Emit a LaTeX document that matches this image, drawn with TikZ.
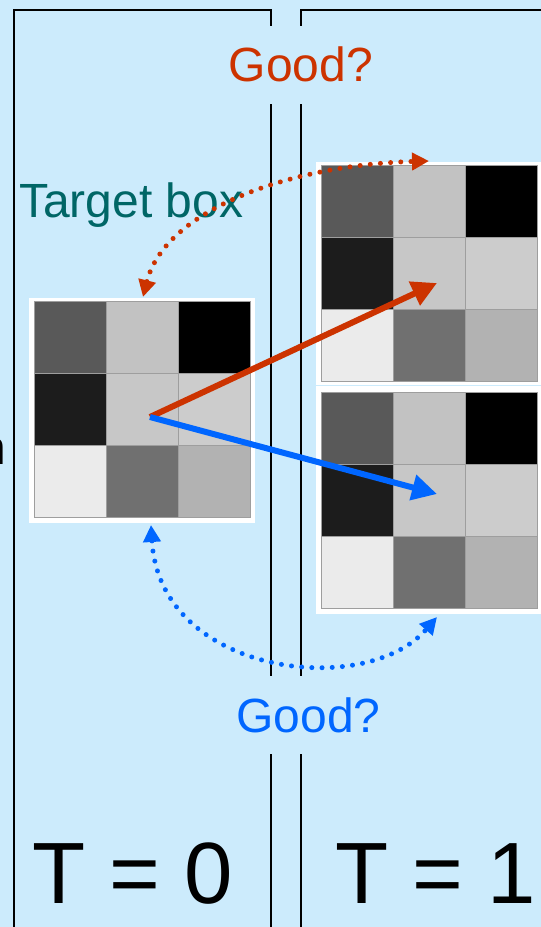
\documentclass[tikz,border=0pt]{standalone}
\usepackage{fontspec}
\setmainfont{Liberation Sans}
\usetikzlibrary{arrows.meta}
\definecolor{skyback}{RGB}{204,235,252}
\definecolor{redgood}{RGB}{204,51,0}
\definecolor{bluegood}{RGB}{0,102,255}
\definecolor{tealtext}{RGB}{0,102,102}
\definecolor{gridline}{RGB}{158,158,158}
\begin{document}
\begin{tikzpicture}[
        x=1pt, y=-1pt,
        panel/.style={draw=black, line width=1.4pt},
        frame/.style={fill=white, inner sep=0pt, outer sep=0pt, anchor=north west},
        cell/.style={draw=gridline, line width=1pt, minimum size=72pt, inner sep=0pt, outer sep=0pt},
        question/.style={fill=skyback, inner xsep=6pt, inner ysep=0pt, text height=56pt, text depth=22pt, anchor=base, font=\fontsize{48}{50}\selectfont},
        timelbl/.style={anchor=base west, inner sep=0pt, font=\fontsize{87}{90}\selectfont},
        move/.style={line width=6pt, -{Triangle[length=25pt,width=25pt]}},
        check/.style={line width=5pt, line cap=round, dash pattern=on 0pt off 10.2pt,
            {Triangle[length=17pt,width=17pt]}-{Triangle[length=17pt,width=17pt]}}
    ]
    \clip (0,0) rectangle (541,927);
    \fill[skyback] (0,0) rectangle (541,927);
    \draw[panel] (14,940) |- (271,10) -- (271,940);
    \draw[panel] (301,940) |- (560,10);
    \node[frame, minimum width=226pt, minimum height=225pt] (f0) at (29,298) {};
    \node[frame, minimum width=230pt, minimum height=223pt] (f1) at (316,162) {};
    \node[frame, minimum width=230pt, minimum height=228pt] (f2) at (316,386) {};
    \foreach \g/\ox/\oy in {L/34/301, A/321/165, B/321/392} {
        \foreach \w [count=\i from 0] in {35,76,0,11,78,80,92,44,70} {
            \pgfmathtruncatemacro\c{mod(\i,3)}
            \pgfmathtruncatemacro\r{div(\i,3)}
            \node[cell, fill=white!\w!black] (\g-\r-\c) at (\ox+36+72*\c, \oy+36+72*\r) {};
        }
    }
    \node[question, text=redgood] (good1) at (301,81.5) {Good?};
    \node[question, text=bluegood] (good2) at (308.5,732) {Good?};
    \node[anchor=base west, inner sep=0pt, text=tealtext, font=\fontsize{48}{50}\selectfont] (target) at (19,217) {Target box};
    \node[anchor=base east, inner sep=0pt, font=\fontsize{48}{50}\selectfont] (cut) at (6.7,464) {n};
    \node[timelbl] (t0) at (32,903) {T = 0};
    \node[timelbl] (t1) at (335,903) {T = 1};
    \coordinate (src) at (150,417);
    \coordinate (hitA) at (437,283);
    \coordinate (hitB) at (437,494);
    \coordinate (tgtTop) at (143,297);
    \coordinate (outA) at (429,161);
    \coordinate (tgtBot) at (151,525);
    \coordinate (outB) at (437,617);
    \draw[move, redgood] (src) -- (hitA);
    \draw[move, bluegood] (src) -- (hitB);
    \draw[check, redgood] (tgtTop) .. controls (165,210) and (290,165) .. (outA);
    \draw[check, bluegood] (tgtBot) .. controls (160,675) and (365,700) .. (outB);
\end{tikzpicture}
\end{document}
